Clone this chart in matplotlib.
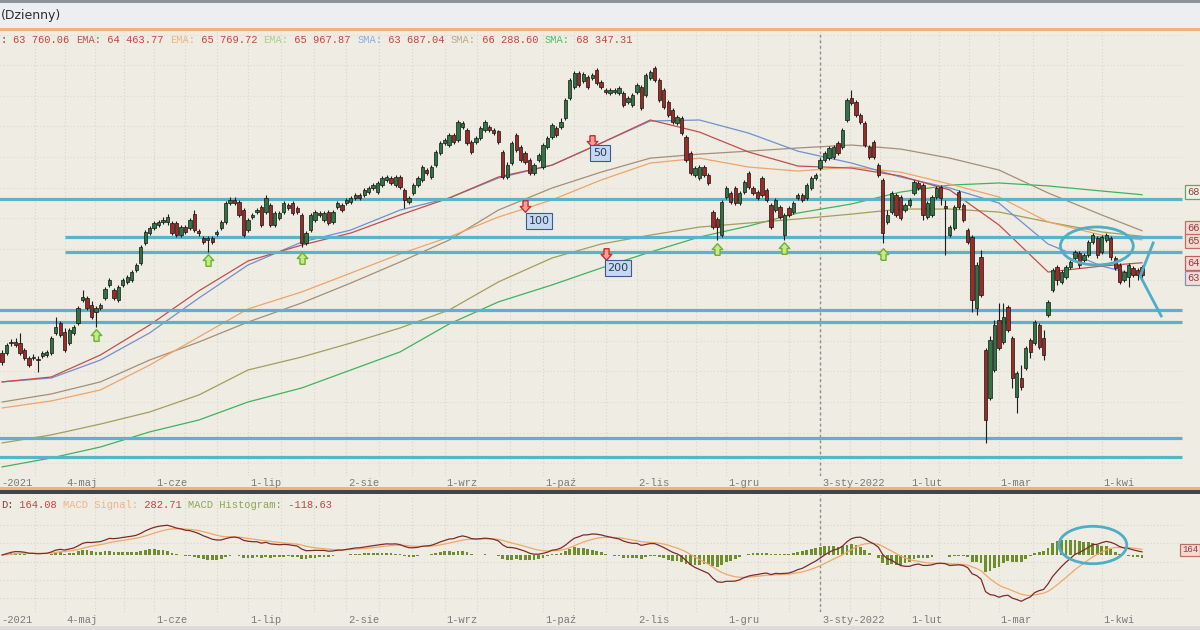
import numpy as np
import pandas as pd
import matplotlib
matplotlib.use("Agg")
import matplotlib.pyplot as plt
from matplotlib.patches import Ellipse, Rectangle
from matplotlib.transforms import blended_transform_factory

# ---------------- data (index points, thousands) ----------------
open_ = [
59.30, 59.30, 59.88, 59.94, 59.88, 59.47, 59.01, 59.01, 58.96, 59.13,
59.18, 59.30, 60.45, 61.02, 60.51, 59.88, 60.45, 61.02, 62.33, 62.44,
62.04, 61.65, 61.87, 62.44, 63.18, 62.90, 62.33, 63.18, 63.36, 63.47,
64.04, 64.45, 65.59, 66.16, 66.44, 66.62, 66.79, 66.79, 66.73, 66.73,
66.04, 66.50, 66.44, 67.24, 66.27, 65.87, 65.76, 65.87, 66.10, 66.44,
66.79, 67.87, 68.05, 67.94, 67.47, 66.33, 67.07, 67.36, 67.64, 67.36,
67.76, 66.62, 67.02, 67.36, 67.76, 67.87, 67.59, 67.19, 65.59, 66.33,
66.90, 67.30, 66.90, 67.36, 66.79, 67.64, 67.76, 67.87, 67.94, 68.16,
68.33, 68.33, 68.51, 68.73, 68.51, 68.91, 69.19, 69.30, 68.91, 69.36,
68.62, 67.94, 68.45, 68.91, 69.19, 69.76, 69.36, 70.04, 70.73, 71.30,
71.19, 71.76, 71.47, 72.22, 72.05, 71.36, 71.36, 71.59, 72.05, 72.22,
72.05, 71.99, 70.79, 69.36, 70.16, 71.76, 71.07, 70.73, 70.33, 69.59,
70.33, 69.93, 71.07, 71.64, 72.16, 72.22, 72.73, 73.87, 74.50, 75.30,
74.84, 75.07, 75.02, 75.47, 74.79, 74.33, 74.16, 74.22, 74.16, 74.16,
73.64, 73.47, 74.22, 74.50, 74.04, 75.02, 75.59, 74.90, 74.33, 73.64,
73.19, 72.45, 72.73, 71.64, 70.73, 69.47, 69.30, 69.93, 69.47, 67.36,
66.96, 66.04, 68.22, 68.45, 68.73, 67.87, 68.51, 69.59, 68.73, 68.51,
69.30, 68.62, 67.76, 67.47, 67.64, 66.04, 67.59, 67.36, 68.16, 68.33,
68.16, 68.73, 69.30, 69.87, 70.33, 70.44, 70.50, 71.30, 71.07, 72.62,
73.87, 73.64, 72.90, 72.45, 71.07, 71.36, 70.04, 69.19, 66.79, 67.36,
68.33, 68.22, 67.47, 67.76, 68.45, 69.02, 68.91, 67.07, 67.19, 68.22,
68.79, 67.70, 66.04, 66.44, 68.51, 67.76, 66.33, 65.93, 61.87, 64.79,
59.47, 56.73, 58.33, 61.19, 59.94, 61.93, 60.16, 56.79, 57.87, 58.45,
60.05, 59.88, 60.90, 60.16, 61.47, 62.90, 64.22, 63.36, 63.64, 64.22,
64.73, 65.02, 64.62, 64.90, 65.64, 65.87, 65.07, 65.76, 65.87, 64.73,
64.33, 63.47, 63.64, 64.16, 64.04, 64.22]

high = [
59.47, 59.88, 60.11, 60.16, 60.45, 59.59, 59.13, 59.24, 59.13, 59.41,
59.47, 60.28, 61.36, 61.13, 60.73, 60.73, 60.90, 61.99, 62.90, 62.56,
62.27, 61.99, 62.16, 63.07, 63.59, 63.01, 63.18, 63.59, 63.76, 64.04,
64.45, 65.47, 66.33, 66.56, 66.84, 66.90, 67.07, 67.24, 66.84, 66.84,
66.62, 66.62, 67.02, 67.47, 66.39, 65.99, 65.99, 65.99, 66.33, 66.90,
67.99, 68.22, 68.22, 68.05, 67.59, 67.02, 67.30, 67.59, 67.76, 68.33,
67.87, 67.41, 67.41, 67.99, 67.87, 67.99, 67.70, 67.30, 66.27, 67.30,
67.47, 67.41, 67.41, 67.47, 67.47, 67.99, 67.87, 68.16, 68.28, 68.45,
68.45, 68.73, 68.85, 69.02, 69.13, 69.42, 69.47, 69.42, 69.47, 69.47,
68.73, 68.28, 69.02, 69.42, 70.04, 69.87, 70.04, 70.90, 71.41, 71.59,
71.87, 71.87, 72.62, 72.56, 72.16, 71.47, 71.70, 72.28, 72.62, 72.33,
72.16, 72.05, 70.90, 70.22, 71.41, 71.87, 71.19, 70.84, 70.44, 70.16,
70.73, 71.30, 71.70, 72.45, 72.28, 72.73, 73.87, 75.02, 75.41, 75.41,
75.36, 75.19, 75.30, 75.59, 74.90, 74.44, 74.44, 74.44, 74.56, 74.27,
73.99, 74.16, 74.73, 74.61, 75.30, 75.47, 75.70, 75.02, 74.44, 73.76,
73.30, 72.90, 72.85, 71.76, 70.84, 69.99, 70.04, 70.04, 69.59, 67.47,
67.07, 68.05, 68.85, 68.56, 68.85, 68.56, 69.19, 69.70, 68.85, 68.62,
69.42, 68.73, 67.87, 68.16, 67.76, 67.30, 67.70, 67.99, 68.45, 68.45,
69.02, 69.42, 69.59, 70.44, 70.84, 71.13, 71.19, 71.41, 72.16, 73.87,
74.33, 73.76, 73.01, 72.56, 71.19, 71.47, 70.16, 69.30, 67.47, 68.56,
68.45, 68.33, 67.87, 68.16, 69.19, 69.13, 69.02, 67.99, 68.33, 68.85,
68.91, 68.05, 66.62, 67.76, 68.62, 67.87, 66.44, 66.04, 64.50, 65.19,
59.59, 60.28, 61.19, 62.16, 62.16, 62.04, 60.28, 58.28, 58.61, 59.71,
60.16, 61.19, 61.02, 60.62, 62.33, 64.16, 64.33, 64.04, 64.33, 64.62,
65.19, 65.13, 65.02, 65.76, 66.16, 65.99, 66.04, 66.16, 65.99, 64.84,
64.45, 64.04, 64.45, 64.27, 64.16, 64.33]

low = [
58.61, 59.18, 59.71, 59.65, 59.18, 58.90, 58.50, 58.90, 58.22, 59.01,
59.07, 59.18, 60.33, 60.22, 59.36, 59.76, 60.33, 60.90, 62.22, 61.76,
61.24, 60.79, 61.76, 62.33, 63.07, 62.33, 62.22, 63.07, 63.24, 63.36,
63.93, 64.33, 65.47, 66.04, 66.33, 66.50, 66.67, 66.62, 66.04, 65.93,
65.93, 66.10, 66.33, 66.22, 65.99, 65.53, 65.07, 65.53, 65.99, 66.33,
66.67, 67.76, 67.76, 67.07, 65.93, 66.22, 66.96, 67.24, 66.50, 67.24,
66.50, 66.50, 66.90, 67.24, 67.47, 67.19, 67.24, 65.36, 65.47, 66.22,
66.79, 67.07, 66.79, 66.62, 66.67, 67.53, 67.36, 67.76, 67.82, 68.05,
68.05, 68.22, 68.39, 68.62, 68.39, 68.79, 69.07, 68.91, 68.79, 68.68,
67.59, 67.82, 68.33, 68.79, 69.07, 69.47, 69.25, 69.93, 70.62, 71.19,
71.07, 71.24, 71.36, 72.10, 71.19, 70.67, 71.24, 71.47, 71.93, 71.93,
71.76, 71.24, 69.25, 69.25, 70.04, 70.79, 70.22, 70.10, 69.47, 69.47,
70.22, 69.82, 70.96, 71.53, 71.64, 72.10, 72.62, 73.76, 74.39, 74.50,
74.73, 74.39, 74.90, 74.61, 74.39, 74.10, 74.04, 74.10, 74.04, 73.36,
73.53, 73.36, 74.10, 73.19, 73.93, 74.90, 74.79, 73.64, 73.24, 72.79,
72.39, 72.33, 71.76, 70.22, 69.47, 69.36, 69.19, 69.36, 68.91, 66.39,
65.76, 65.93, 68.10, 67.82, 67.76, 67.76, 68.39, 68.68, 68.33, 68.05,
68.22, 67.94, 66.39, 67.36, 66.96, 65.76, 67.07, 67.24, 68.05, 67.94,
68.05, 68.62, 69.19, 69.76, 70.22, 70.33, 70.39, 70.61, 70.96, 72.51,
73.47, 72.79, 72.39, 71.07, 70.39, 70.39, 69.36, 65.59, 66.67, 67.24,
67.07, 66.90, 67.36, 67.64, 68.33, 68.62, 66.90, 66.96, 67.07, 68.10,
67.76, 64.90, 65.93, 66.33, 67.53, 66.79, 65.53, 61.65, 61.47, 62.50,
54.16, 56.62, 58.22, 59.47, 59.82, 60.51, 57.30, 55.87, 57.19, 58.33,
59.01, 59.76, 59.53, 58.90, 61.36, 62.79, 63.18, 63.24, 63.53, 64.10,
64.62, 64.16, 64.50, 64.79, 65.53, 64.73, 64.96, 65.64, 64.62, 64.04,
63.24, 63.36, 63.07, 63.64, 63.47, 63.53]

close = [
58.79, 59.76, 59.94, 59.76, 59.30, 59.01, 58.61, 59.07, 58.90, 59.30,
59.36, 60.16, 60.79, 60.33, 59.47, 60.62, 60.79, 61.87, 62.50, 61.87,
61.36, 61.87, 62.04, 62.96, 63.47, 62.44, 63.07, 63.47, 63.64, 63.93,
64.33, 65.36, 66.22, 66.44, 66.73, 66.79, 66.90, 67.07, 66.16, 66.04,
66.50, 66.22, 66.90, 66.33, 66.16, 65.64, 65.87, 65.64, 66.22, 66.79,
67.87, 68.05, 67.87, 67.19, 66.04, 66.90, 67.19, 67.47, 66.62, 68.16,
66.62, 67.30, 67.30, 67.87, 67.59, 67.30, 67.36, 65.59, 66.16, 67.19,
67.36, 67.19, 67.30, 66.73, 67.36, 67.87, 67.47, 68.05, 68.16, 68.33,
68.16, 68.62, 68.73, 68.91, 69.02, 69.30, 69.36, 69.02, 69.36, 68.79,
68.05, 68.16, 68.91, 69.30, 69.93, 69.59, 69.93, 70.79, 71.30, 71.47,
71.76, 71.36, 72.51, 72.45, 71.30, 70.79, 71.59, 72.16, 72.51, 72.05,
71.87, 71.36, 69.36, 70.04, 71.30, 70.90, 70.33, 70.22, 69.59, 70.04,
70.61, 71.19, 71.59, 72.33, 71.76, 72.51, 73.76, 74.90, 75.30, 74.61,
75.24, 74.50, 75.19, 74.73, 74.50, 74.22, 74.33, 74.33, 74.44, 73.47,
73.87, 74.04, 74.61, 73.30, 75.19, 75.36, 74.90, 73.76, 73.36, 72.90,
72.51, 72.79, 71.87, 70.33, 69.59, 69.87, 69.93, 69.47, 69.02, 66.50,
66.50, 67.94, 68.73, 67.94, 67.87, 68.45, 69.07, 68.79, 68.45, 68.16,
68.33, 68.05, 66.50, 68.05, 67.07, 67.19, 67.19, 67.87, 68.33, 68.05,
68.91, 69.30, 69.47, 70.33, 70.73, 71.02, 71.07, 70.73, 72.05, 73.76,
73.59, 72.90, 72.51, 71.19, 70.50, 70.50, 69.47, 66.16, 67.19, 68.45,
67.19, 67.02, 67.76, 68.05, 69.07, 68.73, 67.19, 67.87, 68.22, 68.73,
68.16, 67.59, 66.50, 67.64, 67.64, 66.90, 65.64, 62.33, 64.33, 62.62,
55.47, 60.05, 60.90, 59.59, 61.36, 60.62, 57.87, 58.16, 57.36, 59.59,
59.36, 61.07, 59.65, 59.18, 62.22, 64.04, 63.47, 63.93, 64.22, 64.50,
65.07, 64.33, 64.90, 65.64, 66.04, 64.90, 65.93, 66.04, 64.79, 64.16,
63.36, 63.93, 64.33, 63.76, 63.76, 63.76]

# moving averages at these candle indices
ma_idx = [0, 11, 22, 33, 44, 55, 67, 78, 89, 100, 111, 123, 134, 145, 156,
          167, 178, 190, 201, 212, 223, 234, 246, 255]
ema50 = [57.65, 57.93, 59.19, 60.90, 62.85, 64.56, 65.47, 66.16, 67.19, 68.16,
         69.36, 70.04, 71.30, 72.62, 71.93, 70.79, 69.99, 69.87, 69.42, 68.62,
         66.62, 63.93, 64.27, 64.46]
sma50 = [57.65, 57.87, 58.90, 60.45, 62.44, 64.33, 65.64, 66.33, 67.47, 68.16,
         69.30, 70.04, 71.30, 72.56, 72.62, 71.87, 70.84, 70.16, 69.36, 68.73,
         67.87, 65.53, 64.27, 63.69]
ema100 = [56.16, 56.56, 57.19, 58.61, 60.22, 61.82, 62.79, 63.87, 64.96, 65.93,
          67.07, 68.05, 69.19, 70.16, 70.44, 69.93, 69.70, 69.93, 69.64, 68.96,
          68.22, 66.79, 66.04, 65.77]
sma100 = [56.50, 56.96, 57.65, 58.90, 59.93, 61.07, 62.16, 63.30, 64.50, 65.76,
          67.47, 68.73, 69.64, 70.44, 70.67, 70.84, 71.02, 71.19, 70.96, 70.44,
          69.76, 68.45, 67.19, 66.29]
ema200 = [54.16, 54.62, 55.24, 55.93, 56.90, 58.33, 59.07, 59.87, 60.73, 61.76,
          63.36, 64.73, 65.53, 66.04, 66.50, 66.73, 66.96, 67.24, 67.53, 67.53,
          67.36, 66.79, 66.22, 65.97]
sma200 = [52.79, 53.30, 53.93, 54.79, 55.47, 56.50, 57.30, 58.33, 59.36, 60.96,
          62.22, 63.19, 64.16, 65.07, 65.93, 66.56, 67.30, 67.82, 68.50, 68.90,
          69.02, 68.85, 68.56, 68.35]

# support / resistance levels (price, first candle index)
levels = [68.10, 65.93, 65.07, 61.76, 61.07, 54.45, 53.36]
level_start = [-1, 14, 14, -1, -1, -1, -1]

holidays = ['2021-05-03', '2021-06-03', '2021-11-01', '2021-11-11',
            '2021-12-24', '2021-12-31', '2022-01-06']
last_date = '2022-04-14'
tick_dates = ['2021-05-04', '2021-06-01', '2021-07-01', '2021-08-02', '2021-09-01',
              '2021-10-01', '2021-11-02', '2021-12-01', '2022-01-03', '2022-02-01',
              '2022-03-01', '2022-04-01']
tick_labels = ['4-maj', '1-cze', '1-lip', '2-sie', '1-wrz', '1-paź', '2-lis',
               '1-gru', '3-sty-2022', '1-lut', '1-mar', '1-kwi']
first_label = '-2021'

up_arrow_idx = [21, 46, 67, 160, 175, 197]
up_arrow_px = [60.33, 64.62, 64.73, 65.24, 65.30, 64.96]
dn_arrow_idx = [132, 117, 135]
dn_arrow_px = [71.41, 67.70, 64.96]
dn_labels = ['50', '100', '200']
dn_label_idx = [133.7, 120.1, 137.8]
dn_label_px = [70.73, 66.84, 64.16]

# ---------------- layout ----------------
W, H = 1200, 630
BG = '#efece3'
MONO = ['Liberation Mono', 'DejaVu Sans Mono']
fig = plt.figure(figsize=(W / 100, H / 100), dpi=100)
fig.patch.set_facecolor(BG)


def fx(px):
    return px / W


def fy(py):
    return 1 - py / H


def band(t, b, color, z=0):
    fig.add_artist(Rectangle((0, fy(b)), 1, (b - t) / H, transform=fig.transFigure,
                             facecolor=color, edgecolor='none', zorder=z))


band(0, 3, '#8d939b')
band(3, 28, '#eceef2')
band(28, 31, '#f1b27a')
band(487, 490, '#f1b27a')
band(490, 494, '#3d4650')
band(626, 630, '#dcdcdc')
fig.text(fx(1), fy(16), '(Dzienny)', fontsize=9, color='#2e2e2e',
         family=['DejaVu Sans'], va='center', ha='left')

N = len(close)
idx = np.arange(N)
o = np.array(open_)
c = np.array(close)
hi = np.array(high)
lo = np.array(low)

dates = pd.bdate_range(end=last_date, periods=N, freq='C', holidays=holidays)
tick_idx = dates.searchsorted(pd.to_datetime(tick_dates))

XL = (-0.48, 264.4)
ax = fig.add_axes([0, fy(476), fx(1184), (476 - 32) / H])
ax.set_xlim(*XL)
ax.set_ylim(52.27, 77.65)
ax2 = fig.add_axes([0, fy(612), fx(1184), (612 - 495) / H])
ax2.set_xlim(*XL)
ax2.set_ylim(-3.26, 3.43)
for a in (ax, ax2):
    a.set_facecolor(BG)
    for s in a.spines.values():
        s.set_visible(False)
    a.tick_params(left=False, bottom=False, labelleft=False, labelbottom=False)

# grid
grid_x = []
for k in range(len(tick_idx) - 1):
    a0, a1 = tick_idx[k], tick_idx[k + 1]
    grid_x += [a0, a0 + (a1 - a0) / 3, a0 + 2 * (a1 - a0) / 3]
grid_x += [tick_idx[-1]]
grid_x += [tick_idx[0] - (tick_idx[1] - tick_idx[0]) / 3]
for a in (ax, ax2):
    for gx in grid_x:
        a.axvline(gx, color='#d9d5c9', lw=0.8, ls=(0, (1, 2)), zorder=0)
for gy in np.arange(53.0, 77.6, 1.75):
    ax.axhline(gy, color='#dedacf', lw=0.8, ls=(0, (1, 2)), zorder=0)
for gy in [1.71, 0.69, -0.40, -1.43, -2.46]:
    ax2.axhline(gy, color='#d9d5c9', lw=0.8, ls=(0, (1, 2)), zorder=0)

# year separator
year_i = tick_idx[tick_labels.index('3-sty-2022')]
for a in (ax, ax2):
    a.axvline(year_i - 0.1, color='#8e8e8e', lw=1.0, ls=(0, (2, 2)), zorder=1)

# moving averages
ma_style = [(sma200, '#3fb35e'), (ema200, '#a39e5c'), (sma100, '#a39078'),
            (ema100, '#f0a468'), (sma50, '#7090d0'), (ema50, '#c0504d')]
for vals, col in ma_style:
    ax.plot(ma_idx, vals, color=col, lw=0.9, zorder=2)

# levels
for lv, st in zip(levels, level_start):
    ax.plot([st, 264.0], [lv, lv], color='#5cb2c8', lw=2.3, zorder=2.5,
            solid_capstyle='butt')

# candles
upc = c >= o
cols = np.where(upc, '#2f7443', '#9b2b27')
ax.vlines(idx, lo, hi, color='#1e1e1e', lw=0.8, zorder=3)
ax.bar(idx, np.abs(c - o), bottom=np.minimum(o, c), width=0.74, color=cols,
       edgecolor='#141414', linewidth=0.5, zorder=4)

# block-arrow markers
UP = [(-0.22, -0.5), (0.22, -0.5), (0.22, 0.0), (0.45, 0.0), (0.0, 0.5),
      (-0.45, 0.0), (-0.22, 0.0), (-0.22, -0.5)]
DN = [(x, -y) for x, y in UP]
ax.scatter(up_arrow_idx, up_arrow_px, marker=UP, s=70, facecolor='#c4ea8a',
           edgecolor='#6cb232', linewidth=1.0, zorder=6)
ax.scatter(dn_arrow_idx, dn_arrow_px, marker=DN, s=70, facecolor='#f4a0a0',
           edgecolor='#cc3030', linewidth=1.0, zorder=6)
for t, i, p in zip(dn_labels, dn_label_idx, dn_label_px):
    ax.text(i, p, t, fontsize=8, color='#2b3a5a', ha='center', va='center',
            family=['DejaVu Sans'], zorder=6,
            bbox=dict(boxstyle='square,pad=0.25', fc='#c6d8f0', ec='#3b5a92', lw=0.8))

# drawings
ax.add_patch(Ellipse((244.9, 65.42), 16.3, 2.17, fill=False, edgecolor='#4eaec8',
                     lw=2.0, zorder=7))
ax.plot([257.5, 254.6, 259.3], [65.59, 63.70, 61.42], color='#4eaec8', lw=2.0,
        zorder=7)

# MACD computed from the closes
cs = pd.Series(c)
macd = cs.ewm(span=12, adjust=False).mean() - cs.ewm(span=26, adjust=False).mean()
signal = macd.ewm(span=9, adjust=False).mean()
hist = macd - signal
ax2.bar(idx, hist, width=0.62, color='#6e8e2e', zorder=2)
ax2.plot(idx, signal, color='#f0a868', lw=0.9, zorder=3)
ax2.plot(idx, macd, color='#7c2c2c', lw=0.9, zorder=4)
ax2.add_patch(Ellipse((244.0, 0.57), 15.2, 2.14, fill=False, edgecolor='#4eaec8',
                      lw=2.0, zorder=7))

# x labels on both panes
tf1 = blended_transform_factory(ax.transData, fig.transFigure)
for yy in (483.5, 620):
    for ti, tl in zip(tick_idx, tick_labels):
        ax.text(ti + 0.4, fy(yy), tl, transform=tf1, fontsize=7.5, color='#7a7a7a',
                family=MONO, ha='left', va='center', clip_on=False)
    fig.text(fx(1), fy(yy), first_label, fontsize=7.5, color='#7a7a7a',
             family=MONO, ha='left', va='center')

# header texts
CW = 7.5 * 100 / 72 * 0.6
VAL = '#cc4242'


def segs(x0, y, parts):
    x = x0
    for t, col in parts:
        fig.text(fx(x), fy(y), t, color=col, fontsize=7.5, family=MONO,
                 ha='left', va='center')
        x += len(t) * CW


segs(1, 40, [(': ', '#8a3a3a'), ('63 760.06 ', VAL),
             ('EMA:', '#c0504d'), (' 64 463.77 ', VAL),
             ('EMA:', '#f4b183'), (' 65 769.72 ', VAL),
             ('EMA:', '#a9cf8a'), (' 65 967.87 ', VAL),
             ('SMA:', '#8faadc'), (' 63 687.04 ', VAL),
             ('SMA:', '#b9a98e'), (' 66 288.60 ', VAL),
             ('SMA:', '#4cbf6a'), (' 68 347.31', VAL)])
segs(1, 505, [('D:', '#8a3a3a'), (' 164.08 ', VAL),
              ('MACD Signal:', '#f4b183'), (' 282.71 ', VAL),
              ('MACD Histogram:', '#8aa656'), (' -118.63', VAL)])

# right-hand value boxes
boxes = [(192, '68', 1187, 7.5, '#f3f1e6', '#5aa86a'),
         (228, '66', 1187, 7.5, '#f6d8d0', '#c07060'),
         (241, '65', 1187, 7.5, '#f6d8d0', '#c07060'),
         (263, '64', 1187, 7.5, '#f6d8d0', '#c06060'),
         (278, '63', 1187, 7.5, '#f3dcdc', '#8090c0'),
         (550, '164', 1182, 6.5, '#f6d8d0', '#c07060')]
for yy, t, xx, fs, fc, ec in boxes:
    fig.text(fx(xx), fy(yy), t, fontsize=fs, color='#8a4040', family=MONO,
             ha='left', va='center',
             bbox=dict(boxstyle='square,pad=0.2', fc=fc, ec=ec, lw=0.9))

fig.savefig('out.png', dpi=100, facecolor=BG)
